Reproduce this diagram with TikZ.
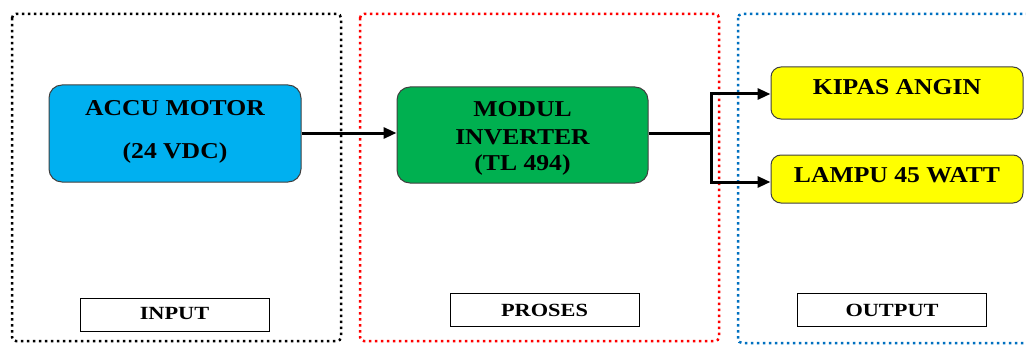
\documentclass[tikz,border=0pt]{standalone}
\usepackage{fontspec}
\setmainfont{Liberation Serif}
\newfontfamily\blockfont[FakeStretch=1.13]{Liberation Serif}
\newfontfamily\tagfont[FakeStretch=1.2]{Liberation Serif}
\usetikzlibrary{arrows.meta}
\definecolor{accublue}{HTML}{00B0F0}
\definecolor{modgreen}{HTML}{00B050}
\definecolor{outyellow}{HTML}{FFFF00}
\definecolor{frameblue}{HTML}{0070C0}
\definecolor{framered}{HTML}{FF0000}
\definecolor{blockedge}{HTML}{404040}

\begin{document}
\begin{tikzpicture}[x=1pt, y=-1pt,
  block/.style={draw=blockedge, line width=1pt, rounded corners=13pt, inner sep=0pt,
    minimum width=252pt},
  blocktext/.style={anchor=base, inner sep=0pt,
    font=\blockfont\bfseries\fontsize{22.7}{26}\selectfont},
  tag/.style={draw=black, line width=1pt, fill=white, inner sep=0pt,
    minimum width=189pt, minimum height=33pt},
  tagtext/.style={anchor=base, inner sep=0pt,
    font=\tagfont\bfseries\fontsize{18.6}{22}\selectfont},
  frame/.style={line width=2.5pt, dash pattern=on 2.5pt off 3.5pt, rounded corners=4pt},
  flow/.style={line width=3pt, -{Triangle[length=13pt,width=11pt]}},
  wire/.style={line width=3pt}
]
\useasboundingbox (0,0) rectangle (1026,345);

% dotted stage frames
\draw[frame, black] (12,14) rectangle (341,341);
\draw[frame, framered] (360,14) rectangle (719,341);
\begin{scope}
  \clip (0,0) rectangle (1026,345);
  \draw[frame, frameblue] (738,14) rectangle (1045,343);
\end{scope}

% stage titles
\node[tag] (tagin) at (174.5,315) {};
\node[tagtext] (tagintext) at (174.5,319) {INPUT};
\node[tag] (tagpro) at (544.5,309.5) {};
\node[tagtext] (tagprotext) at (544.5,316) {PROSES};
\node[tag] (tagout) at (892,309.5) {};
\node[tagtext] (tagouttext) at (892,316) {OUTPUT};

% blocks
\node[block, fill=accublue, minimum height=97pt] (accu) at (175,133.5) {};
\node[blocktext] (accu1) at (175,115) {ACCU MOTOR};
\node[blocktext] (accu2) at (175,158) {(24 VDC)};

\node[block, fill=modgreen, minimum width=251pt, minimum height=96pt] (modul) at (522.5,135) {};
\node[blocktext] (modul1) at (522.5,117) {MODUL};
\node[blocktext] (modul2) at (522.5,144) {INVERTER};
\node[blocktext] (modul3) at (522.5,170) {(TL 494)};

\node[block, fill=outyellow, minimum height=52pt, rounded corners=10pt] (kipas) at (897,93) {};
\node[blocktext] (kipast) at (897,95) {KIPAS ANGIN};

\node[block, fill=outyellow, minimum height=48pt, rounded corners=10pt] (lampu) at (897,179) {};
\node[blocktext] (lamput) at (897,182.5) {LAMPU 45 WATT};

% connections
\coordinate (split) at (710,133);
\draw[flow] (accu.east |- 0,133) -- (modul.west |- 0,133);
\draw[wire] (modul.east |- 0,133) -- (split);
\draw[flow, line join=miter] ([xshift=1.5pt]split) |- ([yshift=-1pt]kipas.west);
\draw[flow, line join=miter] ([xshift=1.5pt]split) |- ([yshift=-3pt]lampu.west);
\draw[wire] (split) -- ++(3pt,0);
\end{tikzpicture}
\end{document}
